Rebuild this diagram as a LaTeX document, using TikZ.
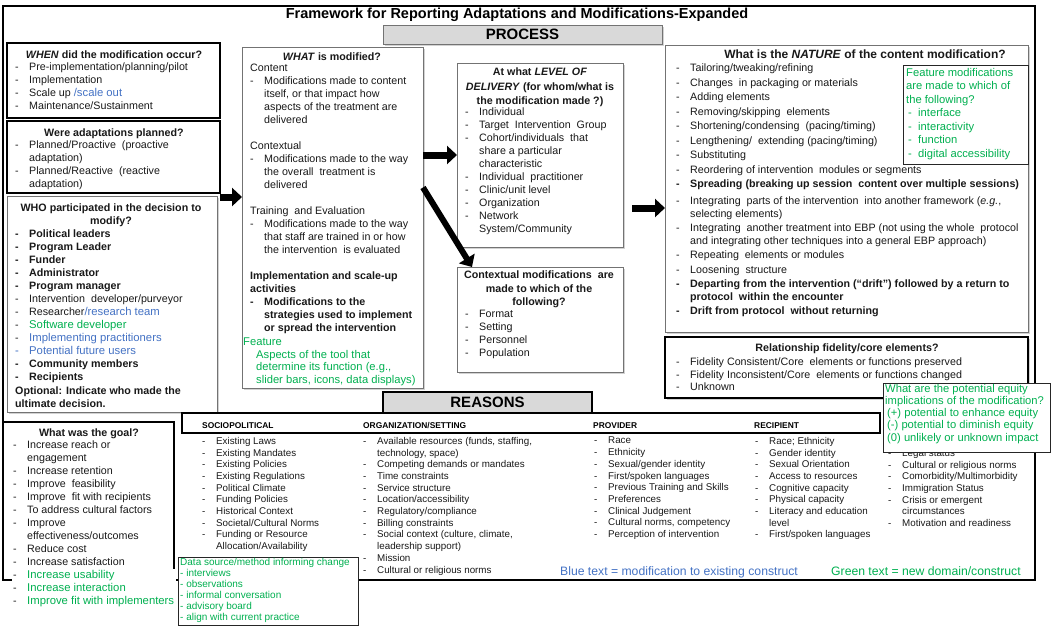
\documentclass[tikz,border=0pt]{standalone}
\usepackage{fontspec}
\setmainfont{Liberation Sans}
\usetikzlibrary{arrows.meta, positioning, shadows}

\definecolor{newgreen}{HTML}{00B050}
\definecolor{modblue}{HTML}{4472C4}
\definecolor{bannergray}{HTML}{D9D9D9}

% list helpers
\newcommand{\itm}{\makebox[14pt][l]{-}}
\newcommand{\cnt}{\hspace*{14pt}}
\newcommand{\blu}[1]{{\fontsize{11.3}{13}\selectfont\color{modblue}#1}}
\newcommand{\grn}[1]{{\fontsize{11.3}{13}\selectfont\color{newgreen}#1}}

\begin{document}
\begin{tikzpicture}[x=1pt, y=-1pt,
  heavybox/.style={draw, line width=2.5pt, inner sep=0pt, outer sep=0pt, anchor=north west},
  softbox/.style={draw=black!55, line width=0.7pt, fill=white, inner sep=0pt, outer sep=0pt,
    anchor=north west, drop shadow={shadow xshift=2pt, shadow yshift=-2pt, fill=black!35}},
  greenbox/.style={draw=black!85, line width=0.8pt, fill=white, inner sep=0pt, outer sep=0pt, anchor=north west},
  body/.style={anchor=north west, inner sep=0pt, align=left, text=black!90,
    font=\fontsize{10.7}{13}\selectfont, execute at begin node={\rule{0pt}{8.5pt}}},
  head/.style={body, anchor=north, align=center, font=\bfseries\fontsize{10.7}{13}\selectfont},
  reason/.style={body, font=\fontsize{9.8}{11.7}\selectfont},
  greentext/.style={body, text=newgreen, font=\fontsize{11.2}{12.4}\selectfont},
  colhead/.style={anchor=base west, inner sep=0pt, font=\bfseries\fontsize{8.4}{10}\selectfont},
  banner/.style={fill=bannergray, minimum height=19pt, font=\bfseries\fontsize{15}{18}\selectfont},
  bigarrow/.style={line width=7pt, -{Triangle[length=10pt, width=18pt]}}
]
\useasboundingbox (0,0) rectangle (1052,627);

% outer frame and title
\node[heavybox, minimum width=1032pt, minimum height=574pt] (frame) at (3,6) {};
\node[anchor=base, inner sep=0pt, font=\bfseries\fontsize{14.5}{16}\selectfont] (title) at (517,18)
  {Framework for Reporting Adaptations and Modifications-Expanded};

% boxes of the process part
\node[heavybox, minimum width=213pt, minimum height=75pt] (when) at (7,43) {};
\node[heavybox, minimum width=213pt, minimum height=72pt] (planned) at (7,121) {};
\node[softbox, minimum width=210pt, minimum height=216pt] (who) at (7,196) {};
\node[heavybox, minimum width=171pt, minimum height=158pt] (goal) at (3,422) {};
\node[softbox, minimum width=181pt, minimum height=341pt] (what) at (242,47) {};
\node[softbox, minimum width=166pt, minimum height=184pt] (level) at (457,63) {};
\node[softbox, minimum width=166pt, minimum height=105pt] (ctx) at (457,267) {};
\node[softbox, minimum width=363pt, minimum height=287pt] (nature) at (665,45) {};
\node[greenbox, minimum width=125pt, minimum height=99pt] (feature) at (903,65) {};
\node[heavybox, fill=white, drop shadow={shadow xshift=2pt, shadow yshift=-2pt, fill=black!35},
  minimum width=363pt, minimum height=61pt] (fidelity) at (665,337) {};
\node[heavybox, minimum width=698pt, minimum height=20pt] (reasonhead) at (182,413) {};

% banners
\node[softbox, banner, minimum width=279pt] (process) at (383,25) {PROCESS};
\node[heavybox, banner, minimum width=209pt, minimum height=21pt] (reasons) at (383,392) {REASONS};

% arrows
\coordinate (whenout) at ([yshift=-4pt]planned.south east);
\draw[bigarrow] (whenout) -- (whenout -| what.west);
\draw[bigarrow] (level.west -| what.east) -- (level.west);
\draw[bigarrow, line width=6pt] ([yshift=30pt]what.east) -- ([xshift=15pt]ctx.north west);
\coordinate (levelout) at ([xshift=9pt, yshift=-53pt]level.east);
\draw[bigarrow] (levelout) -- (levelout -| nature.west);

% WHEN
\node[head] (whenhead) at (114,50) {\textit{WHEN} did the modification occur?};
\node[body] (whenlist) at (15,63) {\itm Pre-implementation/planning/pilot\\
  \itm Implementation\\
  \itm Scale up \blu{/scale out}\\
  \itm Maintenance/Sustainment};

% planned
\node[head] (plannedhead) at (114,128) {Were adaptations planned?};
\node[body] (plannedlist) at (15,141) {\itm Planned/Proactive\ \ (proactive\\
  \cnt adaptation)\\
  \itm Planned/Reactive\ \ (reactive\\
  \cnt adaptation)};

% WHO
\node[head] (whohead) at (111,204) {WHO participated in the decision to\\ modify?};
\node[body] (wholist) at (15,230) {\textbf{\itm Political leaders}\\
  \textbf{\itm Program Leader}\\
  \textbf{\itm Funder}\\
  \textbf{\itm Administrator}\\
  \textbf{\itm Program manager}\\
  \itm Intervention\ \ developer/purveyor\\
  \itm Researcher\blu{/research team}\\
  \itm\grn{Software developer}\\
  \itm\blu{Implementing practitioners}\\
  \blu{\itm Potential future users}\\
  \textbf{\itm Community members}\\
  \textbf{\itm Recipients}};
\node[body, font=\bfseries\fontsize{10.7}{12.5}\selectfont] (whonote) at (15,387)
  {Optional: Indicate who made the\\ ultimate decision.};

% goal
\node[head] (goalhead) at (89,428) {What was the goal?};
\node[body] (goallist) at (13,441) {\itm Increase reach or\\
  \cnt engagement\\
  \itm Increase retention\\
  \itm Improve\ \ feasibility\\
  \itm Improve\ \ fit with recipients\\
  \itm To address cultural factors\\
  \itm Improve\\
  \cnt effectiveness/outcomes\\
  \itm Reduce cost\\
  \itm Increase satisfaction};
\node[body, fill=white, inner sep=1.5pt] (goalnew) at (11.5,568.5) {\itm\grn{Increase usability}\\
  \itm\grn{Increase interaction}\\
  \itm\grn{Improve fit with implementers}};

% WHAT
\node[head] (whathead) at (332,52) {\textit{WHAT} is modified?};
\node[body] (whatlist) at (250,64) {Content\\
  \itm Modifications made to content\\
  \cnt itself, or that impact how\\
  \cnt aspects of the treatment are\\
  \cnt delivered\\[13pt]
  Contextual\\
  \itm Modifications made to the way\\
  \cnt the overall\ \ treatment is\\
  \cnt delivered\\[13pt]
  Training\ \ and Evaluation\\
  \itm Modifications made to the way\\
  \cnt that staff are trained in or how\\
  \cnt the intervention\ \ is evaluated\\[13pt]
  \textbf{Implementation and scale-up}\\
  \textbf{activities}\\
  \textbf{\itm Modifications to the}\\
  \textbf{\cnt strategies used to implement}\\
  \textbf{\cnt or spread the intervention}};
\node[greentext] (whatnew) at (243,338) {Feature\\
  \hspace*{13pt}Aspects of the tool that\\
  \hspace*{13pt}determine its function (e.g.,\\
  \hspace*{13pt}slider bars, icons, data displays)};

% level of delivery
\node[head, font=\bfseries\fontsize{10.7}{14.5}\selectfont] (levelhead) at (540,68)
  {At what \textit{LEVEL OF}\\ \textit{DELIVERY} (for whom/what is\\ the modification made ?)};
\node[body] (levellist) at (465,108) {\itm Individual\\
  \itm Target\ \ Intervention\ \ Group\\
  \itm Cohort/individuals\ \ that\\
  \cnt share a particular\\
  \cnt characteristic\\
  \itm Individual\ \ practitioner\\
  \itm Clinic/unit level\\
  \itm Organization\\
  \itm Network\\
  \cnt System/Community};

% contextual modifications
\node[head, font=\bfseries\fontsize{10.7}{13.5}\selectfont] (ctxhead) at (539,271)
  {Contextual modifications\ \ are\\ made to which of the\\ following?};
\node[body] (ctxlist) at (465,310) {\itm Format\\ \itm Setting\\ \itm Personnel\\ \itm Population};

% nature
\node[head, font=\bfseries\fontsize{12}{14}\selectfont] (naturehead) at (865,50)
  {What is the \textit{NATURE} of the content modification?};
\node[body, font=\fontsize{10.7}{12.5}\selectfont] (naturelist) at (676,64) {\itm Tailoring/tweaking/refining\\[2pt]
  \itm Changes\ \ in packaging or materials\\[2pt]
  \itm Adding elements\\[2pt]
  \itm Removing/skipping\ \ elements\\[2pt]
  \itm Shortening/condensing\ \ (pacing/timing)\\[2pt]
  \itm Lengthening/\ \ extending (pacing/timing)\\[2pt]
  \itm Substituting\\[2pt]
  \itm Reordering of intervention\ \ modules or segments\\[2pt]
  \textbf{\itm Spreading (breaking up session\ \ content over multiple sessions)}\\[4.5pt]
  \itm Integrating\ \ parts of the intervention\ \ into another framework (\textit{e.g.},\\
  \cnt selecting elements)\\[2pt]
  \itm Integrating\ \ another treatment into EBP (not using the whole\ \ protocol\\
  \cnt and integrating other techniques into a general EBP approach)\\[2pt]
  \itm Repeating\ \ elements or modules\\[2pt]
  \itm Loosening\ \ structure\\[2pt]
  \textbf{\itm Departing from the intervention (“drift”) followed by a return to}\\
  \textbf{\cnt protocol\ \ within the encounter}\\[2pt]
  \textbf{\itm Drift from protocol\ \ without returning}};
\node[greentext, font=\fontsize{11.2}{13.5}\selectfont] (featurelist) at (906,68) {Feature modifications\\
  are made to which of\\
  the following?\\
  \hspace*{2pt}\makebox[10pt][l]{-}interface\\
  \hspace*{2pt}\makebox[10pt][l]{-}interactivity\\
  \hspace*{2pt}\makebox[10pt][l]{-}function\\
  \hspace*{2pt}\makebox[10pt][l]{-}digital accessibility};

% fidelity
\node[head] (fidelityhead) at (847,343) {Relationship fidelity/core elements?};
\node[body, font=\fontsize{10.7}{12.5}\selectfont] (fidelitylist) at (676,358)
  {\itm Fidelity Consistent/Core\ \ elements or functions preserved\\
  \itm Fidelity Inconsistent/Core\ \ elements or functions changed\\
  \itm Unknown};

% reasons
\node[colhead] (sociohead) at (202,428) {SOCIOPOLITICAL};
\node[colhead] (orghead) at (363,428) {ORGANIZATION/SETTING};
\node[colhead] (provhead) at (593,428) {PROVIDER};
\node[colhead] (reciphead) at (754,428) {RECIPIENT};
\node[reason] (sociolist) at (202,437) {\itm Existing Laws\\
  \itm Existing Mandates\\
  \itm Existing Policies\\
  \itm Existing Regulations\\
  \itm Political Climate\\
  \itm Funding Policies\\
  \itm Historical Context\\
  \itm Societal/Cultural Norms\\
  \itm Funding or Resource\\
  \cnt Allocation/Availability};
\node[reason] (orglist) at (363,437) {\itm Available resources (funds, staffing,\\
  \cnt technology, space)\\
  \itm Competing demands or mandates\\
  \itm Time constraints\\
  \itm Service structure\\
  \itm Location/accessibility\\
  \itm Regulatory/compliance\\
  \itm Billing constraints\\
  \itm Social context (culture, climate,\\
  \cnt leadership support)\\
  \itm Mission\\
  \itm Cultural or religious norms};
\node[reason] (provlist) at (594,437) {\itm Race\\
  \itm Ethnicity\\
  \itm Sexual/gender identity\\
  \itm First/spoken languages\\
  \itm Previous Training and Skills\\
  \itm Preferences\\
  \itm Clinical Judgement\\
  \itm Cultural norms, competency\\
  \itm Perception of intervention};
\node[reason] (reciplist) at (755,437) {\itm Race; Ethnicity\\
  \itm Gender identity\\
  \itm Sexual Orientation\\
  \itm Access to resources\\
  \itm Cognitive capacity\\
  \itm Physical capacity\\
  \itm Literacy and education\\
  \cnt level\\
  \itm First/spoken languages};
\node[reason] (reciplist2) at (888,449) {\itm Legal status\\
  \itm Cultural or religious norms\\
  \itm Comorbidity/Multimorbidity\\
  \itm Immigration Status\\
  \itm Crisis or emergent\\
  \cnt circumstances\\
  \itm Motivation and readiness};

% equity
\node[greenbox, minimum width=167pt, minimum height=69pt] (equity) at (883,383) {};
\node[greentext, font=\fontsize{11.2}{12.2}\selectfont] (equitytext) at (885,384) {What are the potential equity\\
  implications of the modification?\\
  \hspace*{2pt}(+) potential to enhance equity\\
  \hspace*{2pt}(-) potential to diminish equity\\
  \hspace*{2pt}(0) unlikely or unknown impact};

% data source
\node[greenbox, minimum width=180pt, minimum height=68pt] (datasrc) at (178,557) {};
\node[greentext, font=\fontsize{10}{11}\selectfont] (datatext) at (180,558) {Data source/method informing change\\
  - interviews\\
  - observations\\
  - informal conversation\\
  - advisory board\\
  - align with current practice};

% legend
\node[anchor=base west, inner sep=0pt, font=\fontsize{12.2}{14}\selectfont, text=modblue] (legendblue) at (560,575)
  {Blue text = modification to existing construct};
\node[anchor=base west, inner sep=0pt, font=\fontsize{12.2}{14}\selectfont, text=newgreen] (legendgreen) at (831,575)
  {Green text = new domain/construct};
\end{tikzpicture}
\end{document}
